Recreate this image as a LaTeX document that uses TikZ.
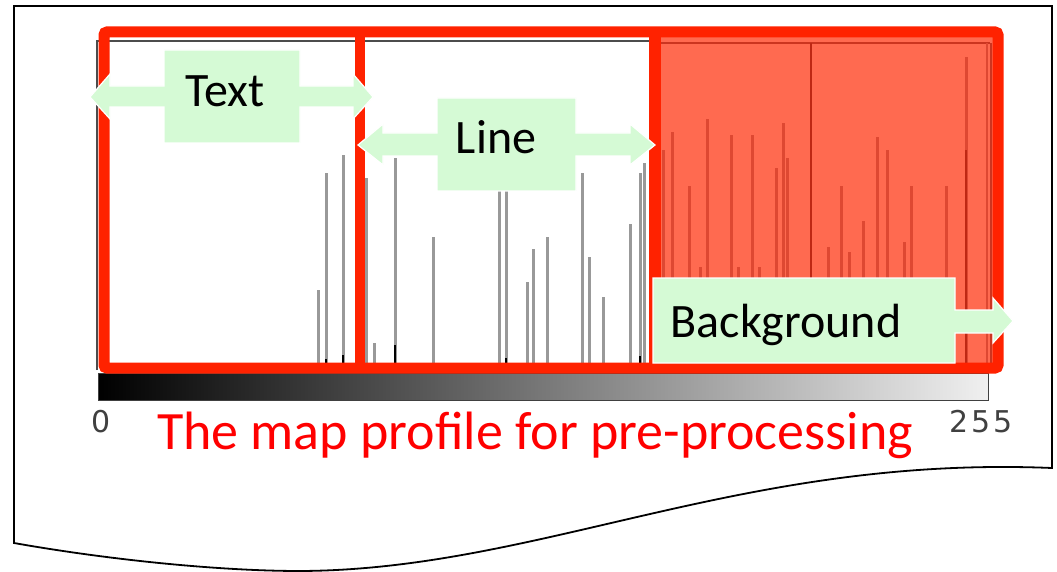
\documentclass[tikz,border=0pt]{standalone}
\usepackage{fontspec}
\setmainfont{Carlito}
\newfontfamily\digitfont{DejaVu Sans}
\definecolor{redline}{RGB}{255,34,0}
\definecolor{bgfill}{RGB}{255,106,80}
\definecolor{redbar}{RGB}{222,72,50}
\definecolor{reddark}{RGB}{190,40,20}
\definecolor{callgreen}{RGB}{213,250,213}
\begin{document}
\begin{tikzpicture}[x=1pt,y=-1pt,
  graybar/.style={line width=3pt, draw=black!40},
  redbarline/.style={line width=3pt, draw=redbar},
  outline/.style={line width=11pt, draw=redline, rounded corners=3pt},
  callout/.style={fill=callgreen, draw=white, line width=1.2pt},
  lbl/.style={font=\fontsize{48}{50}\selectfont, text=black, inner sep=0pt, anchor=base},
]
\useasboundingbox (0,0) rectangle (1057,572);

% sheet with wavy bottom edge
\draw[line width=1.8pt, fill=white] (14,6) -- (1052,6) -- (1052,468)
  .. controls (740,455) and (540,570) .. (300,571)
  .. controls (220,571) and (110,560) .. (14,543) -- cycle;

% grey-level scale
\shade[left color=black, right color=black!6] (98,373) rectangle (988,400);
\draw[black!75, line width=1pt] (98,373) rectangle (988,400);

% histogram frame
\draw[black!70, line width=2pt] (97,370) -- (97,41) -- (988,41);

% histogram bars
\foreach \x/\t in {318/290,326/173,343/155,366/178,374/343,395/158,433/237,
  499/185,506/185,527/282,533/249,547/237,582/173,589/257,603/297,630/224,
  640/173,644/163}
  \draw[graybar] (\x,363) -- (\x,\t);
\foreach \x/\t in {326/359,343/355,395/345,506/358,640/356}
  \draw[black, line width=2pt] (\x,363) -- (\x,\t);

% background range
\fill[bgfill] (655,32) rectangle (998,368);
\draw[reddark!80!bgfill, line width=2pt] (655,43) -- (990,43);
\foreach \x/\t in {663/150,672/132,689/186,700/267,707/119,731/135,738/267,
  752/135,759/267,776/168,783/123,787/158,828/247,841/186,849/252,863/221,
  877/137,887/150,904/242,911/186,946/186,966/57}
  \draw[redbarline] (\x,363) -- (\x,\t);
\draw[reddark, line width=2.4pt] (966,363) -- (966,150);
\draw[reddark, line width=2.4pt] (811,363) -- (811,43);
\draw[redbar, line width=2pt] (987,363) -- (987,43);
\draw[reddark!80!bgfill, line width=1.5pt] (991,363) -- (991,43);

% range outlines
\draw[outline] (104,32) rectangle (998,368);
\draw[redline, line width=10pt] (360,32) -- (360,368);
\draw[redline, line width=12pt] (655,32) -- (655,368);

% range callouts
\draw[callout] (90,97) -- (110,74) -- (110,86) -- (164,86) -- (164,50) -- (300,50)
  -- (300,86) -- (353,86) -- (353,74) -- (373,97) -- (353,119) -- (353,107)
  -- (300,107) -- (300,143) -- (164,143) -- (164,107) -- (110,107) -- (110,119) -- cycle;
\draw[callout] (358,145) -- (383,124) -- (383,133) -- (437,133) -- (437,98) -- (576,98)
  -- (576,133) -- (630,133) -- (630,124) -- (655,145) -- (630,165) -- (630,156)
  -- (576,156) -- (576,191) -- (437,191) -- (437,156) -- (383,156) -- (383,165) -- cycle;
\draw[callout] (653,278) -- (955,278) -- (955,310) -- (993,310) -- (993,298)
  -- (1013,321) -- (993,343) -- (993,333) -- (955,333) -- (955,363) -- (653,363) -- cycle;

\node[lbl] (ttext) at (225,107) {Text};
\node[lbl] (tline) at (496,154) {Line};
\node[lbl] (tback) at (786,337) {Background};

% scale labels and caption
\node[font=\digitfont\fontsize{30}{30}\selectfont, text=black!75, anchor=base, inner sep=0pt] (zero) at (101,432) {0};
\node[font=\digitfont\fontsize{30}{30}\selectfont, text=black!75, anchor=base, inner sep=0pt] (full) at (981,432) {2\kern3pt5\kern3pt5};
\node[font=\fontsize{54}{58}\selectfont, text=red, anchor=base, inner sep=0pt] (caption) at (535,449) {The map profile for pre-processing};
\end{tikzpicture}
\end{document}
